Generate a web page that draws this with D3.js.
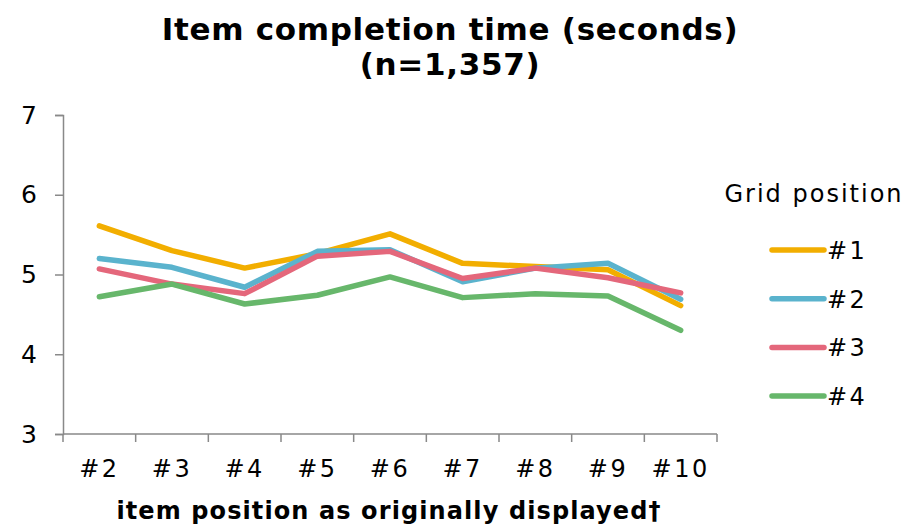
<!DOCTYPE html>
<html>
<head>
<meta charset="utf-8">
<script src="https://cdn.jsdelivr.net/npm/d3@7"></script>
<style>
  html, body { margin: 0; padding: 0; background: #fff; }
  svg { display: block; }
</style>
</head>
<body>
<svg id="chart" width="918" height="526"></svg>
<script>
// Item positions along the x axis
const categories = ["#2", "#3", "#4", "#5", "#6", "#7", "#8", "#9", "#10"];

// Mean completion time (seconds) per grid position
const pos1 = [5.61, 5.30, 5.08, 5.26, 5.51, 5.14, 5.10, 5.06, 4.61];
const pos2 = [5.20, 5.09, 4.84, 5.29, 5.31, 4.91, 5.08, 5.14, 4.69];
const pos3 = [5.07, 4.88, 4.76, 5.23, 5.29, 4.95, 5.08, 4.96, 4.77];
const pos4 = [4.72, 4.88, 4.63, 4.74, 4.97, 4.71, 4.76, 4.73, 4.30];

const seriesNames = ["#1", "#2", "#3", "#4"];
const seriesColors = ["#f2ae00", "#5ab3cd", "#e4677b", "#67b76b"];
const yTicks = [3, 4, 5, 6, 7];

const series = [pos1, pos2, pos3, pos4].map((values, i) => ({
  name: seriesNames[i], color: seriesColors[i], values
}));

const svg = d3.select("#chart");
const font = "'DejaVu Sans', Verdana, sans-serif";

const plot = { left: 63, right: 717, top: 115, bottom: 434 };

const x = d3.scaleBand().domain(categories).range([plot.left, plot.right]);
const y = d3.scaleLinear().domain([3, 7]).range([plot.bottom, plot.top]);

// Title
const title = svg.append("text")
  .attr("text-anchor", "middle")
  .attr("font-family", font).attr("font-weight", "bold")
  .attr("font-size", 31).attr("letter-spacing", 0.7).attr("fill", "#000");
title.append("tspan").attr("x", 450).attr("y", 40).text("Item completion time (seconds)");
title.append("tspan").attr("x", 450).attr("y", 75).text("(n=1,357)");

// Y axis
const yAxis = svg.append("g")
  .attr("transform", `translate(${plot.left},0)`)
  .call(d3.axisLeft(y).tickValues(yTicks).tickFormat(d3.format("d")).tickSize(8).tickPadding(18));
yAxis.select(".domain").attr("stroke", "#898989").attr("stroke-width", 1.5);
yAxis.selectAll(".tick line").attr("stroke", "#898989").attr("stroke-width", 1.5);
yAxis.selectAll(".tick text")
  .attr("font-family", font).attr("font-size", 25).attr("fill", "#000");

// X axis with ticks on band boundaries
const xAxisG = svg.append("g")
  .attr("transform", `translate(0,${plot.bottom})`)
  .call(d3.axisBottom(x).tickSize(0).tickPadding(26));
xAxisG.select(".domain").attr("stroke", "#898989").attr("stroke-width", 1.5)
  .attr("d", `M${plot.left},0H${plot.right}`);
xAxisG.selectAll(".tick text")
  .attr("font-family", font).attr("font-size", 24).attr("letter-spacing", 2.5)
  .attr("fill", "#000");
const boundaries = categories.map(c => x(c)).concat([x(categories[categories.length - 1]) + x.bandwidth()]);
xAxisG.selectAll(".bline").data(boundaries).join("line")
  .attr("class", "bline")
  .attr("x1", d => d).attr("x2", d => d)
  .attr("y1", 0).attr("y2", 8)
  .attr("stroke", "#898989").attr("stroke-width", 1.5);

// X axis title
svg.append("text")
  .attr("x", 389).attr("y", 519).attr("text-anchor", "middle")
  .attr("font-family", font).attr("font-weight", "bold")
  .attr("font-size", 24).attr("letter-spacing", 1.1).attr("fill", "#000")
  .text("item position as originally displayed†");

// Lines
const line = d3.line()
  .x((d, i) => x(categories[i]) + x.bandwidth() / 2)
  .y(d => y(d));

svg.append("g").selectAll("path").data(series).join("path")
  .attr("d", d => line(d.values))
  .attr("fill", "none")
  .attr("stroke", d => d.color)
  .attr("stroke-width", 5.5)
  .attr("stroke-linejoin", "round")
  .attr("stroke-linecap", "round");

// Legend
svg.append("text")
  .attr("x", 814).attr("y", 202).attr("text-anchor", "middle")
  .attr("font-family", font).attr("font-size", 24).attr("letter-spacing", 2)
  .attr("fill", "#000")
  .text("Grid position");

const legend = svg.append("g").selectAll("g").data(series).join("g")
  .attr("transform", (d, i) => `translate(0,${250 + i * 48.7})`);
legend.append("line")
  .attr("x1", 772).attr("x2", 824).attr("y1", 0).attr("y2", 0)
  .attr("stroke", d => d.color).attr("stroke-width", 5.5)
  .attr("stroke-linecap", "round");
legend.append("text")
  .attr("x", 827).attr("y", 9)
  .attr("font-family", font).attr("font-size", 24).attr("letter-spacing", 2.5)
  .attr("fill", "#000")
  .text(d => d.name);
</script>
</body>
</html>
